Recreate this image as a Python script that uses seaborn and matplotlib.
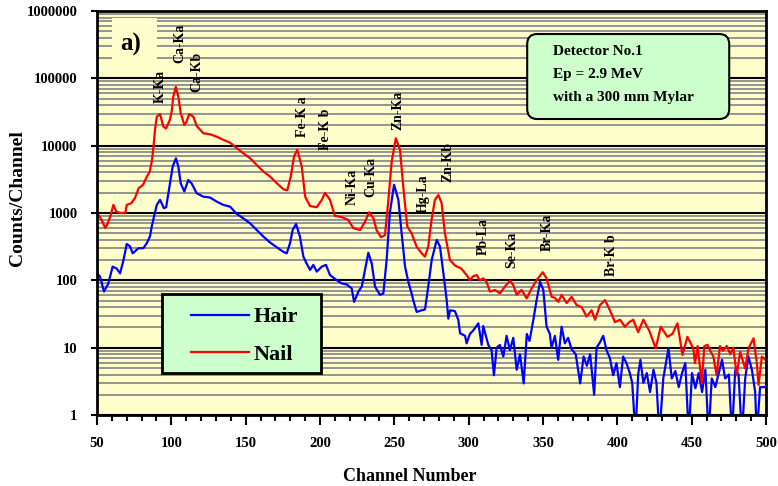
"""
PIXE spectra of hair and nail samples (Detector No.1, Ep = 2.9 MeV).
Log-scale counts per channel vs channel number, with peak labels.
"""

import pandas as pd
import matplotlib
matplotlib.use('Agg')
import matplotlib.pyplot as plt
import matplotlib.patches as mpatches
from matplotlib.ticker import FixedLocator, MultipleLocator
import seaborn as sns


# ── Data ───────────────────────────────────────────────────────────────────────

nail_ch = [
    50, 53, 55.5, 57, 59, 61, 63, 66, 69, 70, 73, 75.5, 78, 81, 83.5, 85.5, 87, 88,
    89, 90.2, 92.4, 94.6, 96.4, 99, 100.2, 101.3, 103, 104.7, 106.3, 108.7, 110.2,
    112, 114.8, 117, 121.5, 126, 130.5, 135, 139.5, 144, 148.5, 153, 157.5, 162,
    166.5, 171, 175.5, 178, 180.3, 182.5, 184.7, 187.7, 190, 193.3, 197.8, 201.2,
    203.4, 206.7, 210, 214.6, 219, 222.4, 227, 230.3, 233, 236, 238, 241, 243.7,
    246, 248.2, 251, 253.8, 256, 258.7, 261.6, 265, 268.4, 270.6, 272.8, 275,
    277.3, 279.6, 281.8, 284, 287.4, 291, 295, 298.6, 300.8, 303, 305.4, 307.5,
    309.8, 312, 314.3, 317.7, 321, 324.4, 327.8, 330, 332.3, 335.6, 339, 342.4,
    345.7, 349.8, 352.4, 355.8, 358, 360.3, 362.5, 365.9, 369.2, 372.6, 376,
    379.3, 382.7, 385, 388.3, 391.7, 395, 398.4, 401.8, 405.1, 408, 410.7, 414,
    417.5, 421.4, 425.8, 429.2, 433.7, 437, 440.4, 443.8, 447.1, 451.1, 452.2,
    454, 456.8, 458.5, 460.7, 462.5, 464.6, 466.8, 469, 471, 473.6, 476, 478,
    480.3, 482.6, 486, 488.2, 491.6, 493.8, 495, 497.2, 499.5, 500,
]
nail_counts = [
    1000, 800, 600, 680, 900, 1320, 1050, 1000, 1000, 1320, 1400, 1660, 2340, 2630,
    3470, 4120, 6160, 9750, 17200, 27000, 29600, 19200, 18000, 24200, 32000, 53500,
    75000, 53500, 30500, 20400, 22800, 29600, 27000, 19700, 15300, 14800, 13600,
    12200, 11100, 9200, 7700, 6500, 5150, 4120, 3470, 2760, 2240, 2190, 3470, 6900,
    8700, 4900, 1750, 1270, 1220, 1570, 2000, 1570, 910, 870, 790, 595, 560, 745,
    1025, 835, 560, 437, 470, 1570, 5800, 12900, 8700, 2460, 630, 500, 316, 252,
    225, 316, 790, 1570, 1860, 1400, 500, 200, 165, 150, 120, 101, 115, 120, 100,
    107, 95, 68, 72, 64, 81, 99, 85, 61, 72, 54, 76, 101, 132, 107, 57, 55, 48, 61,
    46, 57, 43, 40, 29, 36, 26, 43, 51, 36, 24, 26, 20.5, 24, 26, 17, 26, 18, 9.8,
    20.5, 14.5, 16, 23, 7.8, 14.5, 9.8, 5.9, 10.6, 2.95, 10.6, 11, 9, 7.4, 3.9,
    10.6, 9, 10.6, 8, 10, 3.9, 8.7, 4.9, 9.8, 13.8, 5.9, 2.8, 7.4, 6.6, 6.6,
]

hair_ch = [
    50, 52, 54.7, 57.6, 60.5, 63.2, 65.5, 67.8, 70, 72.2, 74, 77.8, 81.1, 83.4,
    85.6, 86.8, 88.3, 90.2, 92.4, 95, 96.5, 99.1, 100.9, 103.1, 104.7, 106.3,
    108.7, 111.4, 113.6, 117, 121.5, 126, 130.5, 135, 139.5, 144, 148.4, 152.9,
    157.4, 161.9, 166.4, 170.9, 175.3, 177.6, 179.8, 181.6, 183.9, 186.5, 188.8,
    191, 193.3, 195.5, 197.8, 201.2, 204, 206.7, 211.2, 214.6, 218, 221.3, 222.9,
    225.8, 228.1, 230.3, 232.5, 234.8, 237, 240.3, 242.6, 244.8, 247, 249.8,
    252.7, 254.9, 257.2, 259.4, 261.6, 262.7, 265, 268.4, 270.6, 272.8, 275.1,
    278.5, 280.7, 283, 285.2, 286.3, 287.5, 290.7, 293, 294.2, 297.6, 298.6,
    300.8, 303, 306.5, 308.7, 309.8, 313.2, 315.4, 317, 318.8, 321, 323.3, 325.5,
    327.7, 330, 332.3, 334.5, 337, 339.1, 340.9, 343.5, 345.7, 348, 350.2, 352.4,
    354.6, 355.7, 358, 360.2, 362.5, 364.7, 366.9, 369.2, 372, 375, 377.3, 379.5,
    381.7, 384.4, 386, 388.3, 390.5, 392.7, 395, 397.2, 399.4, 401.7, 403.9, 406,
    408.4, 410, 412.2, 414, 415.5, 417.5, 419.8, 422, 424.3, 426.3, 428.3, 430.9,
    434.4, 436.6, 439, 441.3, 443.5, 445.7, 448, 450.2, 452.5, 454.7, 457, 459.2,
    461.4, 463.5, 465.9, 468, 470.4, 472.5, 475, 477.1, 479.3, 481.5, 483.8, 486,
    488.2, 490.5, 492.7, 493.8, 496, 499.5,
]
hair_counts = [
    127, 114, 68, 90, 160, 150, 127, 200, 347, 320, 252, 300, 300, 355, 447, 630,
    880, 1320, 1570, 1180, 1220, 2760, 4900, 6500, 4900, 2760, 2090, 3090, 2760,
    1970, 1750, 1700, 1480, 1320, 1245, 970, 835, 705, 560, 447, 365, 310, 265, 252,
    355, 560, 690, 447, 225, 178, 143, 170, 135, 160, 170, 120, 101, 90, 87, 76, 48,
    68, 81, 143, 257, 178, 81, 61, 64, 200, 1020, 2630, 1570, 500, 160, 95, 64, 51,
    34, 36, 37, 81, 200, 400, 316, 127, 51, 27, 36, 35, 26, 16.4, 15, 11.6, 16, 18,
    23, 11, 21, 11, 9.2, 3.9, 10, 11, 7.4, 15, 9.2, 14, 4.7, 8, 2.95, 16, 12.6, 26,
    51, 95, 72, 20.5, 16, 10, 15, 6.6, 20.5, 11.6, 14, 9.5, 8, 2.95, 7.4, 5.4, 8, 2,
    10, 12, 15, 9.2, 7, 3.9, 5.9, 2.6, 7.4, 6, 4.2, 3, 0.5, 4, 6.6, 3, 4.2, 2.2,
    4.7, 3, 0.5, 3.5, 9.8, 3.5, 4.5, 2.6, 4.2, 5.9, 0.5, 4.2, 2.5, 4.2, 2.2, 4.7,
    0.5, 3.5, 2.6, 4, 6.6, 3.5, 4, 0.5, 4.7, 4, 0.5, 3.5, 7.4, 4.7, 2.2, 0.5, 2.6,
    2.6,
]

# peak labels (rotated), anchored at the bottom of the text
peak_labels = ['K-Ka', 'Ca-Ka', 'Ca-Kb', 'Fe-K a', 'Fe-K b', 'Ni-Ka', 'Cu-Ka',
               'Zn-Ka', 'Hg-La', 'Zn-Kb', 'Pb-La', 'Se-Ka', 'Br-Ka', 'Br-K b']
peak_ch = [92.4, 105.8, 117.3, 187.9, 204, 221.5, 234.3,
           252.5, 269.3, 286.1, 309.6, 329.1, 352.7, 396.4]
peak_cnt = [43000, 169000, 62700, 13500, 8630, 1315, 1730,
            17100, 1000, 2890, 238, 152, 273, 116]

ytick_vals = [1, 10, 100, 1000, 10000, 100000, 1000000]
ytick_labels = ['1', '10', '100', '1000', '10000', '100000', '1000000']
info_lines = ['Detector No.1', 'Ep = 2.9 MeV', 'with a 300 mm Mylar']

# ── Style ──────────────────────────────────────────────────────────────────────

SERIF = ['Liberation Serif', 'DejaVu Serif']
BG_YELLOW = '#FFFFCC'
BOX_GREEN = '#CCFFCC'

plt.rcParams['font.family'] = SERIF
plt.rcParams['font.weight'] = 'bold'

hair_df = pd.DataFrame({'channel': hair_ch, 'counts': hair_counts})
nail_df = pd.DataFrame({'channel': nail_ch, 'counts': nail_counts})

fig = plt.figure(figsize=(7.78, 4.86), dpi=100)
ax = fig.add_axes([0.1247, 0.146, 0.8599, 0.8313])
ax.set_facecolor(BG_YELLOW)

ax.set_yscale('log')
ax.set_xlim(50, 500)
ax.set_ylim(1, 1000000)

# grid: gray minor decades, black majors
ax.yaxis.set_major_locator(FixedLocator(ytick_vals))
ax.yaxis.set_minor_locator(FixedLocator(
    [m * 10 ** d for d in range(0, 6) for m in range(2, 10)]))
ax.grid(True, which='minor', axis='y', color='#8c8c8c', linewidth=1.3, zorder=0)
ax.grid(True, which='major', axis='y', color='black', linewidth=1.5, zorder=0)
ax.set_axisbelow(True)

sns.lineplot(data=hair_df, x='channel', y='counts', ax=ax, color='#0000FF',
             linewidth=1.6, label='Hair', estimator=None, sort=False)
sns.lineplot(data=nail_df, x='channel', y='counts', ax=ax, color='#FF0000',
             linewidth=1.6, label='Nail', estimator=None, sort=False)

ax.set_yticklabels(ytick_labels)
ax.xaxis.set_major_locator(MultipleLocator(50))
ax.xaxis.set_minor_locator(MultipleLocator(10))
ax.tick_params(axis='x', which='major', direction='out', length=7, width=1.5,
               labelsize=10.5, pad=9)
ax.tick_params(axis='x', which='minor', direction='out', length=4, width=1.5)
ax.tick_params(axis='y', which='major', direction='out', length=4, width=1.5,
               labelsize=10.5, pad=10)
ax.tick_params(axis='y', which='minor', length=0)
for lbl in ax.get_xticklabels() + ax.get_yticklabels():
    lbl.set_fontfamily(SERIF)
    lbl.set_fontweight('bold')
for spine in ax.spines.values():
    spine.set_linewidth(2)
    spine.set_color('black')

ax.set_xlabel('Channel Number', fontsize=13, fontweight='bold')
ax.xaxis.set_label_coords(0.468, -0.13)
ax.set_ylabel('Counts/Channel', fontsize=14, fontweight='bold')
ax.yaxis.set_label_coords(-0.106, 0.537)

# peak labels
for txt, ch, cnt in zip(peak_labels, peak_ch, peak_cnt):
    ax.text(ch, cnt, txt, rotation=90, ha='center', va='bottom',
            fontsize=10, fontweight='bold', zorder=5)

# panel tag "a)" on a plain yellow patch hiding the grid
ax.add_patch(mpatches.Rectangle((0.0224, 0.8738), 0.0673, 0.109,
                                transform=ax.transAxes, facecolor=BG_YELLOW,
                                edgecolor='none', zorder=4))
ax.text(0.0508, 0.918, 'a)', transform=ax.transAxes, ha='center', va='center',
        fontsize=18, fontweight='bold', zorder=5)

# detector info box
ax.add_patch(mpatches.FancyBboxPatch(
    (0.643, 0.7327), 0.302, 0.2104, transform=ax.transAxes,
    boxstyle='round,pad=0,rounding_size=0.015', mutation_aspect=669 / 404,
    facecolor=BOX_GREEN, edgecolor='black', linewidth=1.5, zorder=6))
ax.text(0.6816, 0.915, '\n'.join(info_lines), transform=ax.transAxes,
        ha='left', va='top', fontsize=11, fontweight='bold', linespacing=2.0,
        zorder=7)

# legend: frame drawn as its own patch, entries placed inside it
ax.add_patch(mpatches.Rectangle((0.0972, 0.104), 0.2377, 0.1955,
                                transform=ax.transAxes, facecolor=BOX_GREEN,
                                edgecolor='black', linewidth=2, zorder=7))
leg = ax.legend(loc='upper left', bbox_to_anchor=(0.1405, 0.268), fontsize=16,
                frameon=False, handlelength=2.6, handletextpad=0.2,
                labelspacing=0.78, borderpad=0, borderaxespad=0)
leg.set_zorder(8)
for handle in leg.get_lines():
    handle.set_linewidth(1.6)
for t in leg.get_texts():
    t.set_fontweight('bold')

fig.savefig('out.png', dpi=100)
